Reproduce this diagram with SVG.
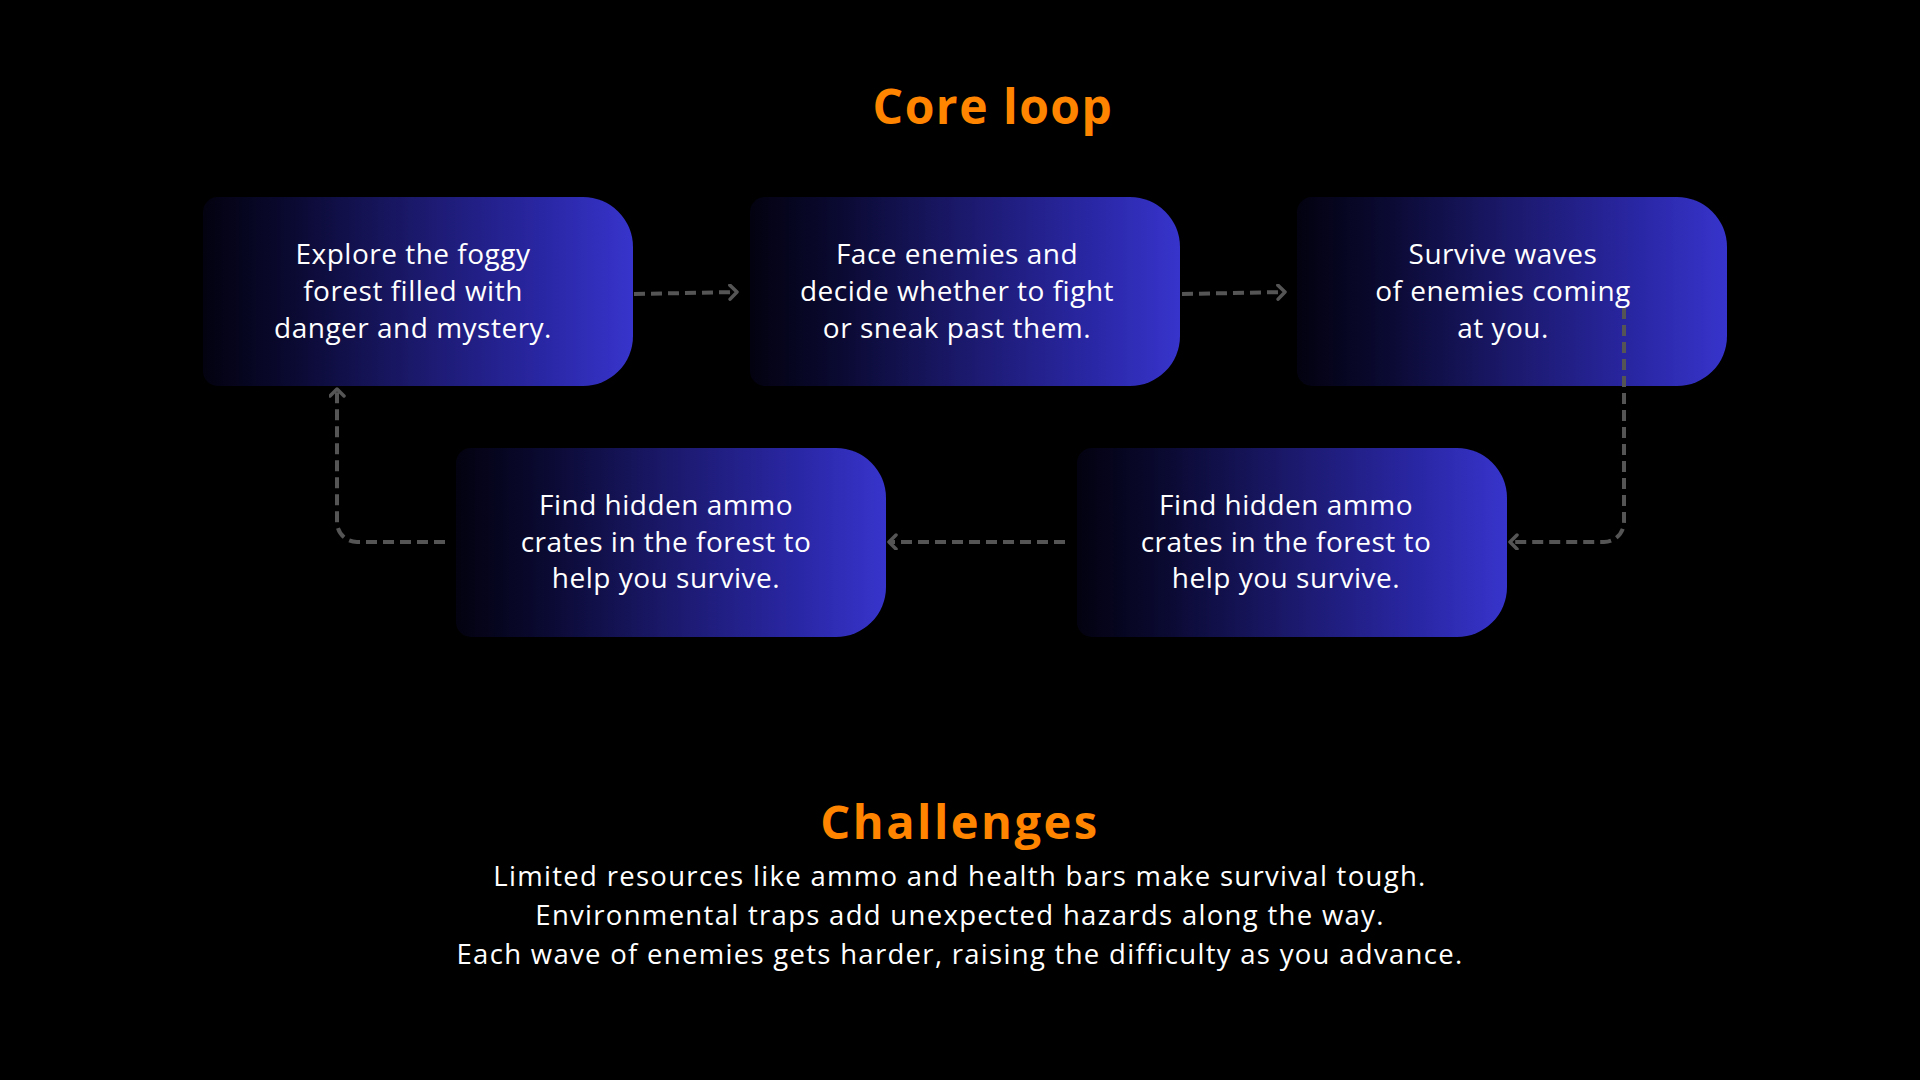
<svg xmlns="http://www.w3.org/2000/svg" width="1920" height="1080" viewBox="0 0 1920 1080">
<defs>
<linearGradient id="nodeGrad" x1="0" y1="0" x2="1" y2="0">
<stop offset="0" stop-color="#030210"/>
<stop offset="0.2" stop-color="#0a0930"/>
<stop offset="0.5" stop-color="#1b196c"/>
<stop offset="0.8" stop-color="#2a27a6"/>
<stop offset="1" stop-color="#3734cc"/>
</linearGradient>
<marker id="arrow" markerUnits="userSpaceOnUse" markerWidth="16" markerHeight="20" refX="9" refY="8" orient="auto">
<path d="M2,1 L9,8 L2,15" fill="none" stroke="#555555" stroke-width="3.5" stroke-linecap="round" stroke-linejoin="round"/>
</marker>
<path id="nodeShape" d="M15,0 H380 A50,50 0 0 1 430,50 V139 A50,50 0 0 1 380,189 H15 A15,15 0 0 1 0,174 V15 A15,15 0 0 1 15,0 Z"/>
</defs>
<style>
.node-bg { fill: url(#nodeGrad); }
.node-text { font-family: "Open Sans", "Liberation Sans", sans-serif; font-size: 28px; letter-spacing: 0.5px; fill: #ffffff; text-anchor: middle; }
.title { font-family: "Open Sans", "Liberation Sans", sans-serif; font-weight: 700; fill: #ff8500; text-anchor: middle; }
.body { font-family: "Open Sans", "Liberation Sans", sans-serif; font-size: 27.5px; letter-spacing: 1.3px; fill: #ffffff; text-anchor: middle; }
.conn { fill: none; stroke: #555555; stroke-width: 4; stroke-dasharray: 11 6; }
</style>
<rect width="1920" height="1080" fill="#000000"/>

<text class="title" x="993" y="124" font-size="48" letter-spacing="1.5">Core loop</text>

<g id="node1" transform="translate(203,197)">
<use href="#nodeShape" class="node-bg"/>
<text class="node-text"><tspan x="210" y="67">Explore the foggy</tspan><tspan x="210" y="104">forest filled with</tspan><tspan x="210" y="141">danger and mystery.</tspan></text>
</g>
<g id="node2" transform="translate(750,197)">
<use href="#nodeShape" class="node-bg"/>
<text class="node-text"><tspan x="207" y="67">Face enemies and</tspan><tspan x="207" y="104">decide whether to fight</tspan><tspan x="207" y="141">or sneak past them.</tspan></text>
</g>
<g id="node3" transform="translate(1297,197)">
<use href="#nodeShape" class="node-bg"/>
<text class="node-text"><tspan x="206" y="67">Survive waves</tspan><tspan x="206" y="104">of enemies coming</tspan><tspan x="206" y="141">at you.</tspan></text>
</g>
<g id="node4" transform="translate(456,448)">
<use href="#nodeShape" class="node-bg"/>
<text class="node-text"><tspan x="210" y="67">Find hidden ammo</tspan><tspan x="210" y="104">crates in the forest to</tspan><tspan x="210" y="140">help you survive.</tspan></text>
</g>
<g id="node5" transform="translate(1077,448)">
<use href="#nodeShape" class="node-bg"/>
<text class="node-text"><tspan x="209" y="67">Find hidden ammo</tspan><tspan x="209" y="104">crates in the forest to</tspan><tspan x="209" y="140">help you survive.</tspan></text>
</g>

<g id="connectors">
<path class="conn" d="M634,294 L737,292" marker-end="url(#arrow)"/>
<path class="conn" d="M1182,294 L1285,292" marker-end="url(#arrow)"/>
<path class="conn" d="M1624,308 V522 A20,20 0 0 1 1604,542 H1510" marker-end="url(#arrow)"/>
<path class="conn" d="M1065,542 H889" marker-end="url(#arrow)"/>
<path class="conn" d="M445,542 H357 A20,20 0 0 1 337,522 V389" marker-end="url(#arrow)"/>
</g>

<text class="title" x="960" y="839" font-size="47" letter-spacing="2.5">Challenges</text>
<text class="body"><tspan x="960" y="886">Limited resources like ammo and health bars make survival tough.</tspan><tspan x="960" y="925">Environmental traps add unexpected hazards along the way.</tspan><tspan x="960" y="964">Each wave of enemies gets harder, raising the difficulty as you advance.</tspan></text>
</svg>
